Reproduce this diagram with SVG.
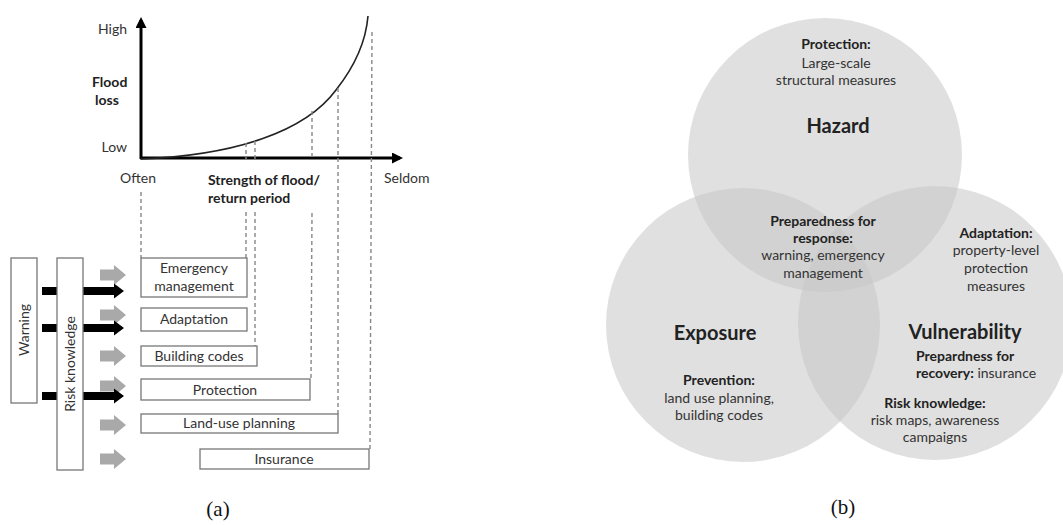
<svg xmlns="http://www.w3.org/2000/svg" width="1063" height="525" viewBox="0 0 1063 525">
<style>
text{font-family:Lato,"Liberation Sans",sans-serif;fill:#333;font-size:14px}
.b{font-weight:bold;fill:#222}
.big{font-size:20px;font-weight:bold;fill:#222}
.c{text-anchor:middle}
.cap{font-family:"Liberation Serif",serif;font-size:21px;fill:#111}
.box{fill:#fff;stroke:#777;stroke-width:1.3}
.dash{stroke:#888;stroke-width:1.4;stroke-dasharray:4 3;fill:none}
.circ{fill:#c6c6c6;fill-opacity:0.55}
</style>
<defs>
<marker id="ah" markerWidth="11" markerHeight="11" refX="8" refY="5.5" orient="auto" markerUnits="userSpaceOnUse">
<path d="M0,0 L11,5.5 L0,11 z" fill="#000"/>
</marker>
<path id="garrow" d="M0,-5.5 L14,-5.5 L14,-10 L26,0 L14,10 L14,5.5 L0,5.5 z" fill="#a9a9a9"/>
<path id="barrow" d="M0,-4 L31,-4 L31,-7.5 L41,0 L31,7.5 L31,4 L0,4 z" fill="#000"/>
</defs>

<!-- Panel (a) -->
<g id="axes">
<line x1="141" y1="159" x2="141" y2="20" stroke="#000" stroke-width="3" marker-end="url(#ah)"/>
<line x1="140" y1="158" x2="400" y2="158" stroke="#000" stroke-width="3" marker-end="url(#ah)"/>
<path d="M141,159 C235,155 305,132 336,90 C355,66 366,40 368,16" fill="none" stroke="#222" stroke-width="1.6"/>
<text x="127" y="34" text-anchor="end">High</text>
<text x="92" y="87" class="b">Flood</text>
<text x="95" y="105" class="b">loss</text>
<text x="127" y="152" text-anchor="end">Low</text>
<text x="138" y="183" class="c">Often</text>
<text x="208" y="185" class="b">Strength of flood/</text>
<text x="208" y="203" class="b">return period</text>
<text x="384" y="183">Seldom</text>
</g>

<g id="connectors">
<line class="dash" x1="141" y1="192" x2="141" y2="258"/>
<line class="dash" x1="246" y1="143" x2="246" y2="159"/>
<line class="dash" x1="246" y1="212" x2="246" y2="258"/>
<line class="dash" x1="255" y1="141" x2="255" y2="159"/>
<line class="dash" x1="255" y1="212" x2="255" y2="346"/>
<line class="dash" x1="312" y1="111" x2="312" y2="160"/>
<line class="dash" x1="312" y1="213" x2="311" y2="379"/>
<line class="dash" x1="338" y1="88" x2="338" y2="414"/>
<line class="dash" x1="372" y1="32" x2="370" y2="449"/>
<use href="#garrow" x="100" y="275"/>
<use href="#garrow" x="100" y="315"/>
<use href="#garrow" x="100" y="356"/>
<use href="#garrow" x="100" y="386"/>
<use href="#garrow" x="100" y="425"/>
<use href="#garrow" x="100" y="459"/>
<rect x="42" y="287" width="15" height="8" fill="#000"/>
<rect x="42" y="324" width="15" height="8" fill="#000"/>
<rect x="42" y="392" width="15" height="8" fill="#000"/>
<use href="#barrow" x="83" y="291"/>
<use href="#barrow" x="83" y="328"/>
<use href="#barrow" x="83" y="396"/>
</g>

<g id="warning"><rect class="box" x="11" y="258" width="26" height="145"/>
<text transform="translate(29,330) rotate(-90)" class="c">Warning</text></g>
<g id="risk-knowledge"><rect class="box" x="57" y="258" width="26" height="212"/>
<text transform="translate(75,364) rotate(-90)" class="c">Risk knowledge</text></g>
<g id="emergency"><rect class="box" x="141" y="258" width="106" height="39"/>
<text x="194" y="273" class="c">Emergency</text><text x="194" y="291" class="c">management</text></g>
<g id="adaptation"><rect class="box" x="141" y="308" width="106" height="23"/>
<text x="194" y="324" class="c">Adaptation</text></g>
<g id="building-codes"><rect class="box" x="141" y="346" width="116" height="20"/>
<text x="199" y="361" class="c">Building codes</text></g>
<g id="protection"><rect class="box" x="141" y="379" width="169" height="21"/>
<text x="225" y="395" class="c">Protection</text></g>
<g id="land-use"><rect class="box" x="141" y="414" width="197" height="19"/>
<text x="239" y="428" class="c">Land-use planning</text></g>
<g id="insurance"><rect class="box" x="200" y="449" width="169" height="20"/>
<text x="284" y="464" class="c">Insurance</text></g>
<text x="218" y="516" class="cap c">(a)</text>

<!-- Panel (b) -->
<g id="hazard"><circle class="circ" cx="825" cy="155" r="137"/></g>
<g id="exposure"><circle class="circ" cx="743" cy="325" r="137"/></g>
<g id="vulnerability"><circle class="circ" cx="935" cy="323" r="137"/></g>
<g id="labels-b">
<text x="836" y="49" class="b c">Protection:</text>
<text x="836" y="68" class="c">Large-scale</text>
<text x="836" y="85" class="c">structural measures</text>
<text x="838" y="133" class="big c">Hazard</text>
<text x="823" y="226" class="b c">Preparedness for</text>
<text x="823" y="243" class="b c">response:</text>
<text x="823" y="260" class="c">warning, emergency</text>
<text x="823" y="278" class="c">management</text>
<text x="996" y="238" class="b c">Adaptation:</text>
<text x="996" y="255" class="c">property-level</text>
<text x="996" y="273" class="c">protection</text>
<text x="996" y="291" class="c">measures</text>
<text x="715" y="340" class="big c">Exposure</text>
<text x="719" y="385" class="b c">Prevention:</text>
<text x="719" y="403" class="c">land use planning,</text>
<text x="719" y="420" class="c">building codes</text>
<text x="965" y="339" class="big c">Vulnerability</text>
<text x="916" y="361" class="b">Prepardness for</text>
<text x="916" y="378"><tspan class="b">recovery:</tspan> insurance</text>
<text x="935" y="408" class="b c">Risk knowledge:</text>
<text x="935" y="425" class="c">risk maps, awareness</text>
<text x="935" y="442" class="c">campaigns</text>
</g>
<text x="843" y="514" class="cap c">(b)</text>
</svg>
